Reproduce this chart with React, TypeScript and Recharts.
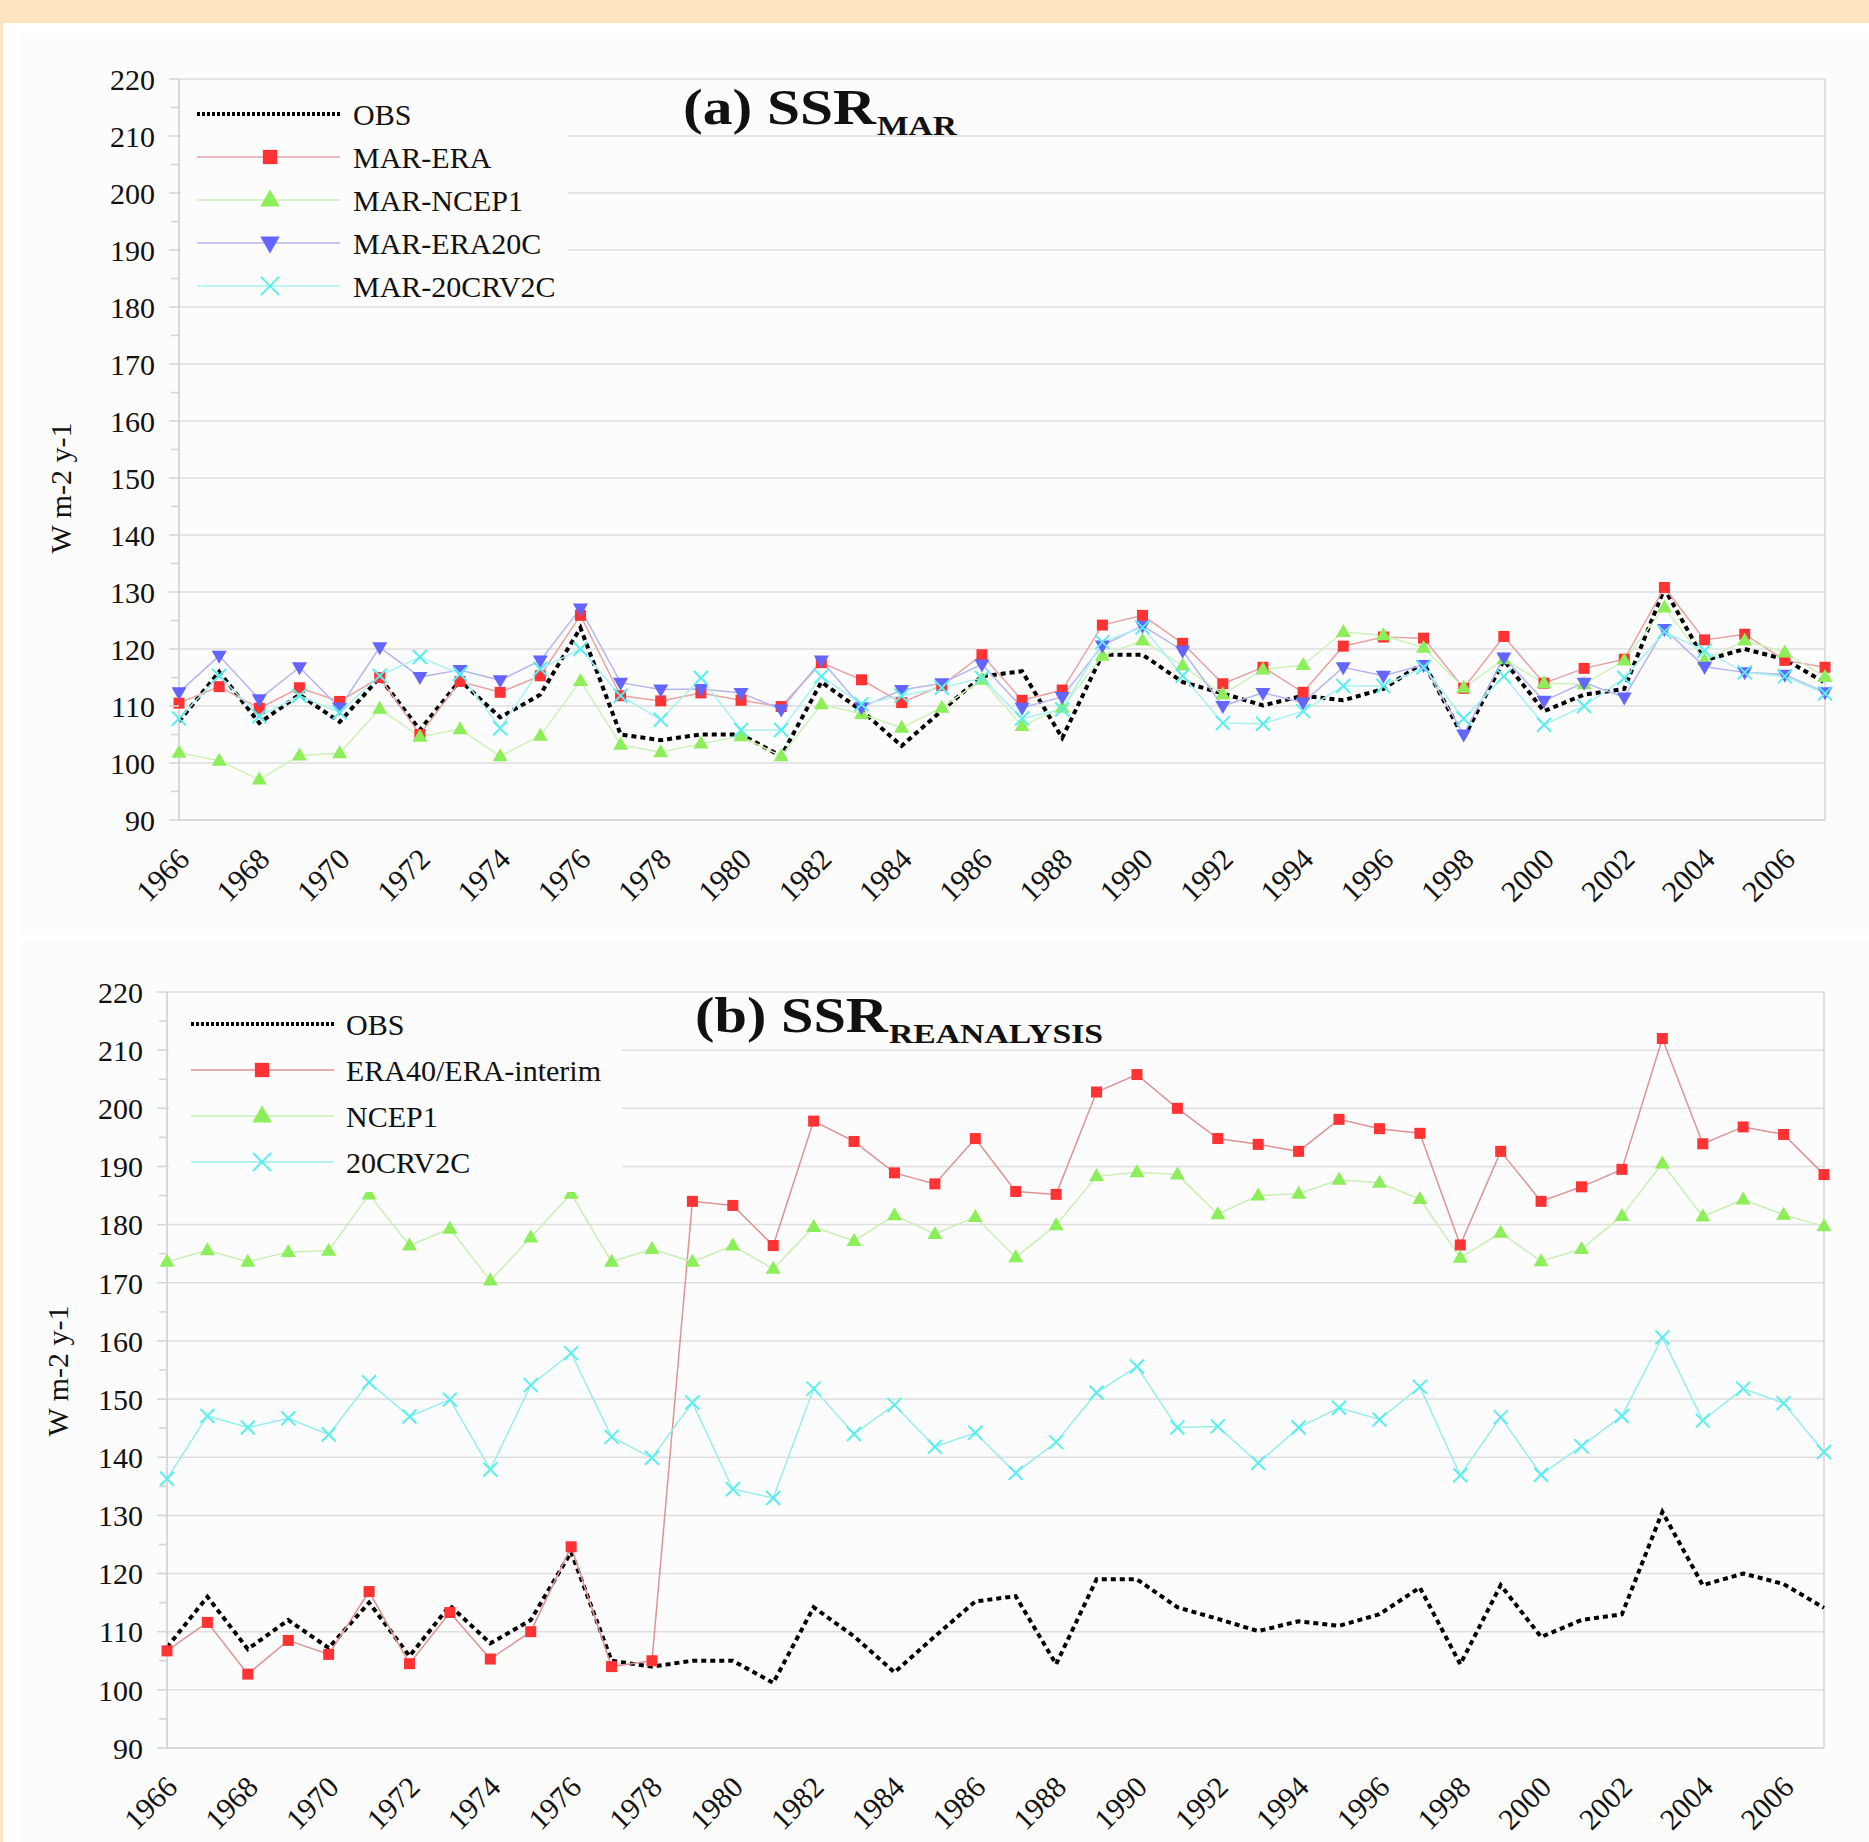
import React from 'react'
import { LineChart, Line, XAxis, YAxis, CartesianGrid, ReferenceLine } from 'recharts'

// years on the x axis
const years = [
  1966, 1967, 1968, 1969, 1970, 1971, 1972, 1973, 1974, 1975,
  1976, 1977, 1978, 1979, 1980, 1981, 1982, 1983, 1984, 1985,
  1986, 1987, 1988, 1989, 1990, 1991, 1992, 1993, 1994, 1995,
  1996, 1997, 1998, 1999, 2000, 2001, 2002, 2003, 2004, 2005,
  2006, 2007,
]

// observed SSR (same series in both panels)
const obs = [
  107.3, 116, 107, 112, 107.2, 115, 105.8, 114.5, 108, 112,
  123.7, 105, 104, 105, 105, 101.2, 114.2, 109.2, 103, 109.2,
  115.2, 116.1, 104.4, 119, 119, 114.2, 112.2, 110.1, 111.8, 111,
  113, 117.6, 104.4, 118, 109.1, 112, 113, 130.6, 118, 120,
  118.2, 114.1,
]

// panel (a): MAR runs
const marEra = [
  110.5, 113.4, 109.6, 113.2, 110.8, 115, 105, 114.3, 112.4, 115.3,
  125.9, 111.8, 110.9, 112.3, 111, 109.9, 117.6, 114.6, 110.6, 113.6,
  119, 111, 112.8, 124.2, 125.9, 121, 113.9, 116.8, 112.4, 120.5,
  122.1, 121.9, 113.1, 122.2, 114, 116.6, 118.2, 130.8, 121.6, 122.6,
  118, 116.8,
]
const marNcep1 = [
  101.8, 100.4, 97.1, 101.3, 101.7, 109.5, 104.6, 105.9, 101.2, 104.8,
  114.4, 103.2, 101.9, 103.4, 104.7, 101.2, 110.3, 108.6, 106.2, 109.7,
  114.6, 106.5, 109.7, 118.8, 121.5, 117.1, 112, 116.4, 117.2, 123,
  122.4, 120.2, 113.2, 118.2, 114, 113.8, 118, 127.3, 118, 121.5,
  119.4, 115.1,
]
const marEra20c = [
  112.4, 118.8, 111.2, 116.8, 109.7, 120.3, 115.1, 116.3, 114.5, 118,
  127.1, 114.1, 112.9, 113, 112.3, 109.4, 118, 109.8, 112.8, 114,
  117.3, 109.7, 111.6, 120.6, 124.1, 119.7, 110, 112.3, 110.6, 116.8,
  115.3, 117.2, 105, 118.5, 110.9, 114.1, 111.5, 123.5, 116.9, 115.9,
  115.5, 112.4,
]
const mar20crv2c = [
  107.8, 115.3, 108.2, 111.8, 108.9, 115.3, 118.6, 115.6, 106.1, 116.5,
  120, 111.8, 107.6, 114.9, 105.8, 105.8, 115.2, 110.3, 111.8, 113.2,
  114.9, 107.8, 109.4, 121.2, 123.8, 115.3, 107, 106.9, 109.1, 113.5,
  113.5, 116.8, 107.8, 115.2, 106.7, 110, 114.9, 123, 119.7, 115.9,
  115.2, 112.2,
]

// panel (b): reanalyses
const eraInterim = [
  106.7, 111.6, 102.7, 108.5, 106.1, 116.9, 104.5, 113.3, 105.3, 110,
  124.6, 104, 105, 184, 183.3, 176.4, 197.8, 194.3, 188.9, 187,
  194.8, 185.7, 185.2, 202.8, 205.8, 200, 194.8, 193.8, 192.6, 198.1,
  196.5, 195.7, 176.5, 192.6, 184, 186.5, 189.5, 212, 193.9, 196.8,
  195.5, 188.6,
]
const ncep1 = [
  173.6, 175.6, 173.6, 175.3, 175.5, 185.2, 176.4, 179.3, 170.4, 177.8,
  185.3, 173.6, 175.8, 173.6, 176.4, 172.4, 179.6, 177.2, 181.6, 178.4,
  181.3, 174.4, 179.9, 188.3, 189, 188.6, 181.8, 185, 185.3, 187.7,
  187.2, 184.4, 174.3, 178.6, 173.7, 175.8, 181.5, 190.5, 181.4, 184.3,
  181.7, 179.7,
]
const crv2c20 = [
  136.3, 147.1, 145.1, 146.7, 143.9, 152.9, 147, 149.9, 137.9, 152.4,
  157.9, 143.5, 139.9, 149.4, 134.5, 133, 151.8, 144, 149, 141.8,
  144.2, 137.3, 142.6, 151.1, 155.6, 145.1, 145.3, 139, 145.1, 148.5,
  146.5, 152.1, 136.9, 146.9, 137, 141.9, 147.1, 160.6, 146.3, 151.8,
  149.3, 140.9,
]

const xTicks = [1966, 1968, 1970, 1972, 1974, 1976, 1978, 1980, 1982, 1984, 1986, 1988, 1990, 1992, 1994, 1996, 1998, 2000, 2002, 2004, 2006]
const yTicks = [90, 95, 100, 105, 110, 115, 120, 125, 130, 135, 140, 145, 150, 155, 160, 165, 170, 175, 180, 185, 190, 195, 200, 205, 210, 215, 220]
const yMajor = [90, 100, 110, 120, 130, 140, 150, 160, 170, 180, 190, 200, 210, 220]

const FONT = "'Liberation Serif', 'Times New Roman', serif"
const PANEL_BG = '#fcfcfc'

const RED = '#ff3333'
const GREEN = '#8cee58'
const BLUE = '#6464ff'
const CYAN = '#5aeeee'

const dataA = years.map((year, i) => ({
  year,
  obs: obs[i],
  marEra: marEra[i],
  marNcep1: marNcep1[i],
  marEra20c: marEra20c[i],
  mar20crv2c: mar20crv2c[i],
}))

const dataB = years.map((year, i) => ({
  year,
  obs: obs[i],
  era: eraInterim[i],
  ncep1: ncep1[i],
  crv: crv2c20[i],
}))

function Marker({ kind, cx, cy, s = 1 }: { kind: string; cx: number; cy: number; s?: number }) {
  if (kind === 'square') {
    const h = 5.5 * s
    return <rect x={cx - h} y={cy - h} width={2 * h} height={2 * h} fill={RED} />
  }
  if (kind === 'up') {
    return <polygon points={`${cx},${cy - 8 * s} ${cx - 7.5 * s},${cy + 5 * s} ${cx + 7.5 * s},${cy + 5 * s}`} fill={GREEN} />
  }
  if (kind === 'down') {
    return <polygon points={`${cx - 7.5 * s},${cy - 5 * s} ${cx + 7.5 * s},${cy - 5 * s} ${cx},${cy + 8 * s}`} fill={BLUE} />
  }
  const d = 7 * s
  return (
    <g stroke={CYAN} strokeWidth={2}>
      <line x1={cx - d} y1={cy - d} x2={cx + d} y2={cy + d} />
      <line x1={cx - d} y1={cy + d} x2={cx + d} y2={cy - d} />
    </g>
  )
}

const dotOf = (kind: string, name: string) => (p: any) => (
  <Marker key={`${name}-${p.index}`} kind={kind} cx={p.cx} cy={p.cy} />
)

function YTick(props: any) {
  const { x, y, payload } = props
  const v = payload.value
  const major = v % 10 === 0
  return (
    <g>
      <line x1={x - (major ? 10 : 8)} x2={x} y1={y} y2={y} stroke="#d4d4d4" strokeWidth={1.5} />
      {major && (
        <text x={x - 24} y={y} dy="0.36em" textAnchor="end" fontSize={30} fontFamily={FONT} fill="#111">
          {v}
        </text>
      )}
    </g>
  )
}

function XTick(props: any) {
  const { x, y, payload } = props
  return (
    <text
      x={0}
      y={0}
      transform={`translate(${x + 12},${y + 33}) rotate(-45)`}
      textAnchor="end"
      fontSize={30}
      fontFamily={FONT}
      fill="#111"
    >
      {payload.value}
    </text>
  )
}

interface SeriesDef {
  key: string
  line: string
  kind: string
}

function Panel({ data, series, top, height, marginTop, yWidth, right, xHeight }: {
  data: any[]
  series: SeriesDef[]
  top: number
  height: number
  marginTop: number
  yWidth: number
  right: number
  xHeight: number
}) {
  return (
    <div style={{ position: 'absolute', left: 0, top }}>
      <LineChart width={1869} height={height} data={data} margin={{ top: marginTop, right, bottom: 0, left: 0 }}>
        <CartesianGrid horizontalValues={yMajor} vertical={false} stroke="#dedede" strokeWidth={1.5} />
        <XAxis
          dataKey="year"
          type="number"
          domain={[1966, 2007]}
          ticks={xTicks}
          interval={0}
          tick={<XTick />}
          tickLine={false}
          tickSize={8}
          tickMargin={0}
          height={xHeight}
          axisLine={{ stroke: '#d6d6d6', strokeWidth: 1.5 }}
        />
        <YAxis
          type="number"
          domain={[90, 220]}
          ticks={yTicks}
          interval={0}
          tick={<YTick />}
          tickLine={false}
          tickSize={0}
          tickMargin={0}
          width={yWidth}
          axisLine={{ stroke: '#cccccc', strokeWidth: 1.5 }}
        />
        <ReferenceLine x={2007} stroke="#d6d6d6" strokeWidth={1.5} />
        <Line
          dataKey="obs"
          type="linear"
          stroke="#000"
          strokeWidth={4}
          strokeDasharray="5 4"
          dot={false}
          activeDot={false}
          isAnimationActive={false}
        />
        {series.map((s) => (
          <Line
            key={s.key}
            dataKey={s.key}
            type="linear"
            stroke={s.line}
            strokeWidth={1.5}
            dot={dotOf(s.kind, s.key)}
            activeDot={false}
            isAnimationActive={false}
          />
        ))}
      </LineChart>
    </div>
  )
}

const seriesA: SeriesDef[] = [
  { key: 'marEra', line: '#e6a4a4', kind: 'square' },
  { key: 'marNcep1', line: '#cdf2ba', kind: 'up' },
  { key: 'marEra20c', line: '#b6b6ee', kind: 'down' },
  { key: 'mar20crv2c', line: '#a8f2f2', kind: 'x' },
]
const seriesB: SeriesDef[] = [
  { key: 'era', line: '#dc9494', kind: 'square' },
  { key: 'ncep1', line: '#c8f0b4', kind: 'up' },
  { key: 'crv', line: '#98eeee', kind: 'x' },
]

const legendA = [
  { label: 'OBS', kind: 'obs', line: '#000' },
  { label: 'MAR-ERA', kind: 'square', line: '#e6a4a4' },
  { label: 'MAR-NCEP1', kind: 'up', line: '#cdf2ba' },
  { label: 'MAR-ERA20C', kind: 'down', line: '#b6b6ee' },
  { label: 'MAR-20CRV2C', kind: 'x', line: '#a8f2f2' },
]
const legendB = [
  { label: 'OBS', kind: 'obs', line: '#000' },
  { label: 'ERA40/ERA-interim', kind: 'square', line: '#dc9494' },
  { label: 'NCEP1', kind: 'up', line: '#c8f0b4' },
  { label: '20CRV2C', kind: 'x', line: '#98eeee' },
]

function LegendBox({ items, x, y, w, h, firstY, step, lx1, lx2, mx, tx }: any) {
  return (
    <g>
      <rect x={x} y={y} width={w} height={h} fill={PANEL_BG} />
      {items.map((it: any, i: number) => {
        const cy = firstY + i * step
        return (
          <g key={it.label}>
            {it.kind === 'obs' ? (
              <line x1={lx1} x2={lx2} y1={cy} y2={cy} stroke="#000" strokeWidth={4} strokeDasharray="3 2" />
            ) : (
              <line x1={lx1} x2={lx2} y1={cy} y2={cy} stroke={it.line} strokeWidth={1.5} />
            )}
            {it.kind !== 'obs' && <Marker kind={it.kind} cx={mx} cy={cy} s={1.3} />}
            <text x={tx} y={cy} dy="0.36em" fontSize={30} fontFamily={FONT} fill="#111">
              {it.label}
            </text>
          </g>
        )
      })}
    </g>
  )
}

export default function App() {
  return (
    <div style={{ position: 'absolute', left: 0, top: 0, width: 1869, height: 1842, background: '#ffffff', overflow: 'hidden' }}>
      <div style={{ position: 'absolute', left: 0, top: 0, width: 1869, height: 23, background: '#ffe4c2' }} />
      <div style={{ position: 'absolute', left: 0, top: 0, width: 3, height: 1842, background: '#ffe4c2' }} />
      <div style={{ position: 'absolute', left: 22, top: 33, width: 1847, height: 902, background: PANEL_BG }} />
      <div style={{ position: 'absolute', left: 22, top: 942, width: 1847, height: 900, background: PANEL_BG }} />

      <Panel data={dataA} series={seriesA} top={0} height={920} marginTop={79} yWidth={179} right={44} xHeight={100} />
      <Panel data={dataB} series={seriesB} top={900} height={942} marginTop={92} yWidth={167} right={45} xHeight={94} />

      <svg width={1869} height={1842} style={{ position: 'absolute', left: 0, top: 0, pointerEvents: 'none' }}>
        <LegendBox items={legendA} x={181} y={86} w={387} h={218} firstY={114} step={43} lx1={197} lx2={340} mx={270} tx={353} />
        <LegendBox items={legendB} x={169} y={1000} w={453} h={192} firstY={1024} step={46} lx1={191} lx2={334} mx={262} tx={346} />

        <text x={683} y={124} fontSize={50} fontWeight="bold" fontFamily={FONT} fill="#111" textLength={193} lengthAdjust="spacingAndGlyphs">
          (a) SSR
        </text>
        <text x={877} y={135} fontSize={28} fontWeight="bold" fontFamily={FONT} fill="#111" textLength={80} lengthAdjust="spacingAndGlyphs">
          MAR
        </text>
        <text x={695} y={1032} fontSize={50} fontWeight="bold" fontFamily={FONT} fill="#111" textLength={193} lengthAdjust="spacingAndGlyphs">
          (b) SSR
        </text>
        <text x={889} y={1043} fontSize={28} fontWeight="bold" fontFamily={FONT} fill="#111" textLength={214} lengthAdjust="spacingAndGlyphs">
          REANALYSIS
        </text>

        <text transform="translate(60,488) rotate(-90)" textAnchor="middle" dy="0.35em" fontSize={30} fontFamily={FONT} fill="#111">
          W m-2 y-1
        </text>
        <text transform="translate(57,1371) rotate(-90)" textAnchor="middle" dy="0.35em" fontSize={30} fontFamily={FONT} fill="#111">
          W m-2 y-1
        </text>
      </svg>
    </div>
  )
}
